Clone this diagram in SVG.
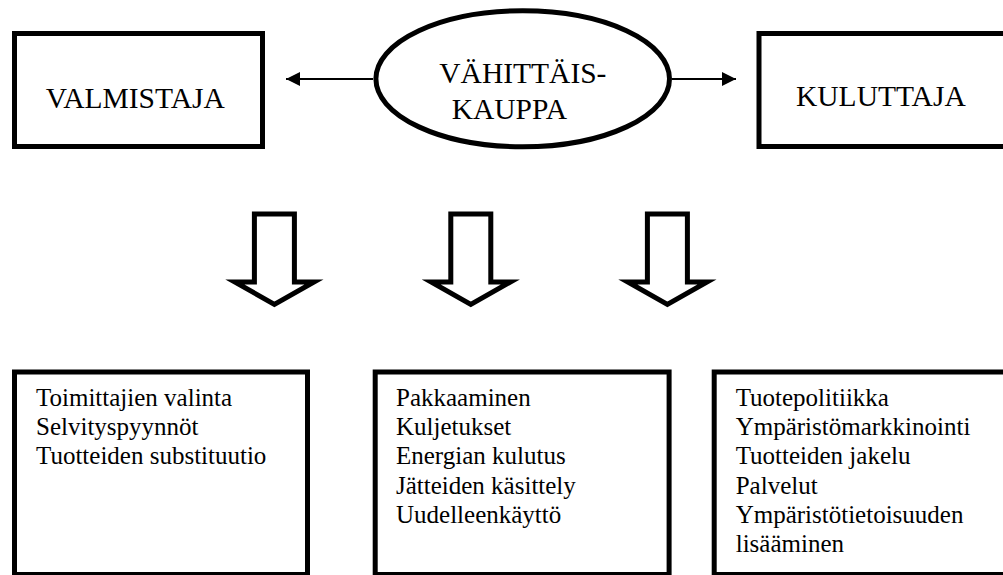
<svg xmlns="http://www.w3.org/2000/svg" xmlns:xlink="http://www.w3.org/1999/xlink" width="1003" height="575" viewBox="0 0 1003 575">
  <style>
    .box { fill: #ffffff; stroke: #000000; stroke-width: 5; }
    .big { font-family: "Liberation Serif", "Times New Roman", serif; font-size: 29.5px; fill: #000000; }
    .small { font-family: "Liberation Serif", "Times New Roman", serif; font-size: 25px; fill: #000000; }
    .conn { stroke: #000000; stroke-width: 2.2; fill: none; }
    .darr { fill: #ffffff; stroke: #000000; stroke-width: 5; stroke-miterlimit: 10; stroke-linejoin: miter; }
  </style>
  <defs>
    <marker id="ah" markerUnits="userSpaceOnUse" markerWidth="14" markerHeight="14" refX="14" refY="7" orient="auto">
      <path d="M0,0 L14,7 L0,14 z" fill="#000000"/>
    </marker>
    <polygon id="down" class="darr" points="-20,214 20,214 20,282 39.6,282 0,304.4 -39.6,282 -20,282"/>
  </defs>
  <rect width="1003" height="575" fill="#ffffff"/>

  <g id="valmistaja">
    <rect class="box" x="14.5" y="33.5" width="248" height="113"/>
    <text class="big" x="45.7" y="108">VALMISTAJA</text>
  </g>

  <g id="vahittaiskauppa">
    <ellipse class="box" cx="522.7" cy="78.8" rx="146.8" ry="68"/>
    <text class="big" x="439.3" y="83.3">VÄHITTÄIS-</text>
    <text class="big" x="451.7" y="119.3">KAUPPA</text>
  </g>

  <g id="kuluttaja">
    <rect class="box" x="759" y="33.5" width="260" height="113"/>
    <text class="big" x="796" y="106">KULUTTAJA</text>
  </g>

  <g id="connectors">
    <line class="conn" x1="373" y1="79" x2="286" y2="79" marker-end="url(#ah)"/>
    <line class="conn" x1="672" y1="79" x2="736" y2="79" marker-end="url(#ah)"/>
    <use xlink:href="#down" href="#down" x="274.4" y="0"/>
    <use xlink:href="#down" href="#down" x="470.8" y="0"/>
    <use xlink:href="#down" href="#down" x="667.4" y="0"/>
  </g>

  <g id="box-valmistaja">
    <rect class="box" x="14.5" y="372" width="293" height="202.5"/>
    <text class="small" x="36" y="406">Toimittajien valinta</text>
    <text class="small" x="36" y="435.2">Selvityspyynnöt</text>
    <text class="small" x="36" y="464.4">Tuotteiden substituutio</text>
  </g>

  <g id="box-kauppa">
    <rect class="box" x="375.2" y="372" width="293.9" height="202.5"/>
    <text class="small" x="396" y="406">Pakkaaminen</text>
    <text class="small" x="396" y="435.2">Kuljetukset</text>
    <text class="small" x="396" y="464.4">Energian kulutus</text>
    <text class="small" x="396" y="493.6">Jätteiden käsittely</text>
    <text class="small" x="396" y="522.8">Uudelleenkäyttö</text>
  </g>

  <g id="box-kuluttaja">
    <rect class="box" x="714.2" y="372" width="300" height="202.5"/>
    <text class="small" x="735.7" y="406">Tuotepolitiikka</text>
    <text class="small" x="735.7" y="435.2">Ympäristömarkkinointi</text>
    <text class="small" x="735.7" y="464.4">Tuotteiden jakelu</text>
    <text class="small" x="735.7" y="493.6">Palvelut</text>
    <text class="small" x="735.7" y="522.8">Ympäristötietoisuuden</text>
    <text class="small" x="735.7" y="552">lisääminen</text>
  </g>
</svg>
